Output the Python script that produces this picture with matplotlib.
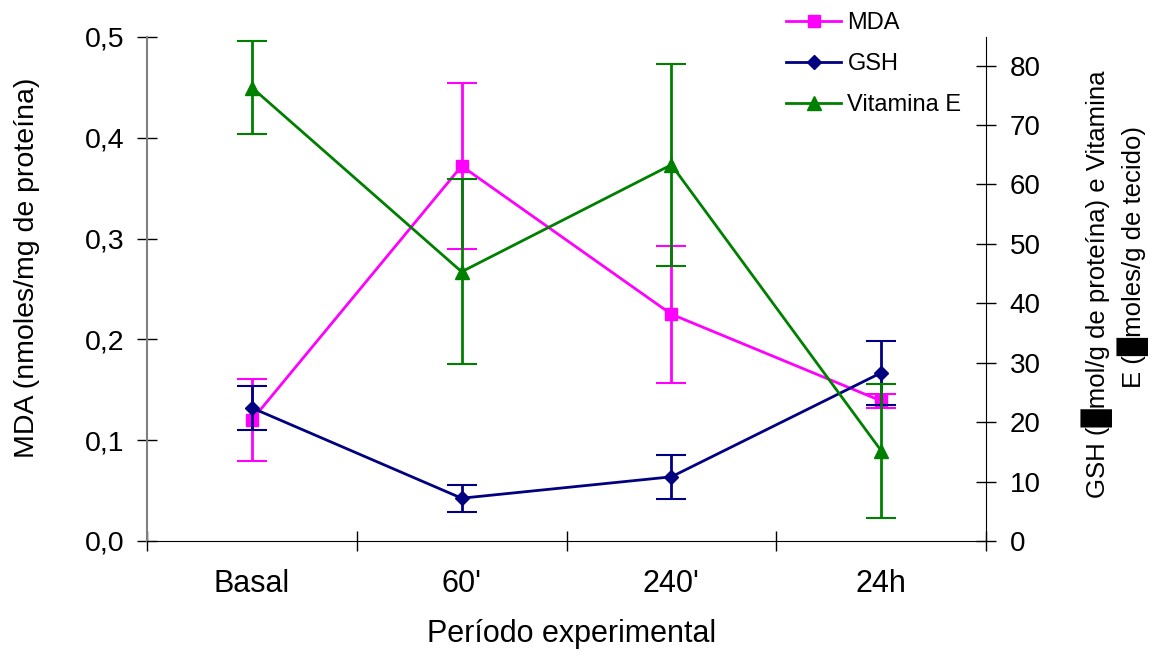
import matplotlib
matplotlib.use("Agg")
import matplotlib.pyplot as plt
from matplotlib.ticker import FuncFormatter, FixedLocator
from matplotlib.lines import Line2D

plt.rcParams['font.family'] = ['Liberation Sans', 'DejaVu Sans']

periods = ["Basal", "60'", "240'", "24h"]

# MDA (eixo esquerdo)
mda = [0.120, 0.372, 0.225, 0.139]
mda_err = [0.041, 0.082, 0.068, 0.007]

# GSH e Vitamina E (eixo direito)
gsh = [22.4, 7.2, 10.8, 28.3]
gsh_err = [3.7, 2.3, 3.7, 5.4]
vite = [76.3, 45.3, 63.3, 15.2]
vite_err = [7.8, 15.6, 17.0, 11.3]

c_mda = '#FF00FF'
c_gsh = '#000080'
c_vite = '#008000'

fig = plt.figure(figsize=(11.54, 6.57), dpi=100)
ax = fig.add_axes([147 / 1154, 1 - 541 / 657, (986 - 147) / 1154, (541 - 37) / 657])
ax2 = ax.twinx()

x = list(range(len(periods)))
ekw = dict(lw=2, elinewidth=2, capsize=11, capthick=1.5)

ax.errorbar(x, mda, yerr=mda_err, color=c_mda, marker='s', ms=8, **ekw)
ax2.errorbar(x, gsh, yerr=gsh_err, color=c_gsh, marker='D', ms=7, **ekw)
ax2.errorbar(x, vite, yerr=vite_err, color=c_vite, marker='^', ms=10, **ekw)

ax.set_xlim(-0.5, 3.5)
ax.set_ylim(0, 0.5)
ax2.set_ylim(0, 84.8)

# eixo x: marcas nos limites, rótulos no centro
ax.xaxis.set_major_locator(FixedLocator([-0.5, 0.5, 1.5, 2.5, 3.5]))
ax.xaxis.set_minor_locator(FixedLocator(x))
ax.set_xticklabels([], minor=False)
ax.set_xticklabels(periods, minor=True)
ax.tick_params(axis='x', which='major', direction='inout', length=14, width=1)
ax.tick_params(axis='x', which='minor', length=0, pad=20, labelsize=22)

ax.set_yticks([0, 0.1, 0.2, 0.3, 0.4, 0.5])
ax.yaxis.set_major_formatter(FuncFormatter(lambda v, p: f"{v:.1f}".replace('.', ',')))
ax.tick_params(axis='y', direction='inout', length=14, width=1, pad=9, labelsize=20.5)

ax2.set_yticks(range(0, 90, 10))
ax2.tick_params(axis='y', direction='inout', length=14, width=1, pad=10, labelsize=20)

for a in (ax, ax2):
    a.spines['top'].set_visible(False)
ax.spines['right'].set_visible(False)
ax.spines['left'].set_color('#808080')
ax.spines['left'].set_linewidth(1.5)
ax2.spines['left'].set_visible(False)
ax2.spines['bottom'].set_visible(False)

fig.text(27 / 1154, 1 - 268 / 657, "MDA (nmoles/mg de proteína)", rotation=90,
         ha='center', va='center', fontsize=20.5)
# título do eixo direito, em duas linhas
fig.text(1097 / 1154, 1 - 284 / 657, "GSH (\u2588mol/g de proteína) e Vitamina",
         rotation=90, ha='center', va='center', fontsize=18.5)
fig.text(1133 / 1154, 1 - 257 / 657, "E (\u2588moles/g de tecido)",
         rotation=90, ha='center', va='center', fontsize=18.5)
fig.text(572 / 1154, 1 - 634 / 657, "Período experimental", ha='center', va='center',
         fontsize=22)

handles = [
    Line2D([], [], color=c_mda, marker='s', ms=8, lw=2),
    Line2D([], [], color=c_gsh, marker='D', ms=7, lw=2),
    Line2D([], [], color=c_vite, marker='^', ms=10, lw=2),
]
fig.legend(handles, ["MDA", "GSH", "Vitamina E"], loc='upper left',
           bbox_to_anchor=(786 / 1154, 1 - 12 / 657), frameon=False, fontsize=17,
           handlelength=2.35, handletextpad=0.25, labelspacing=0.8,
           borderpad=0, borderaxespad=0)

fig.savefig("out.png", dpi=100)
